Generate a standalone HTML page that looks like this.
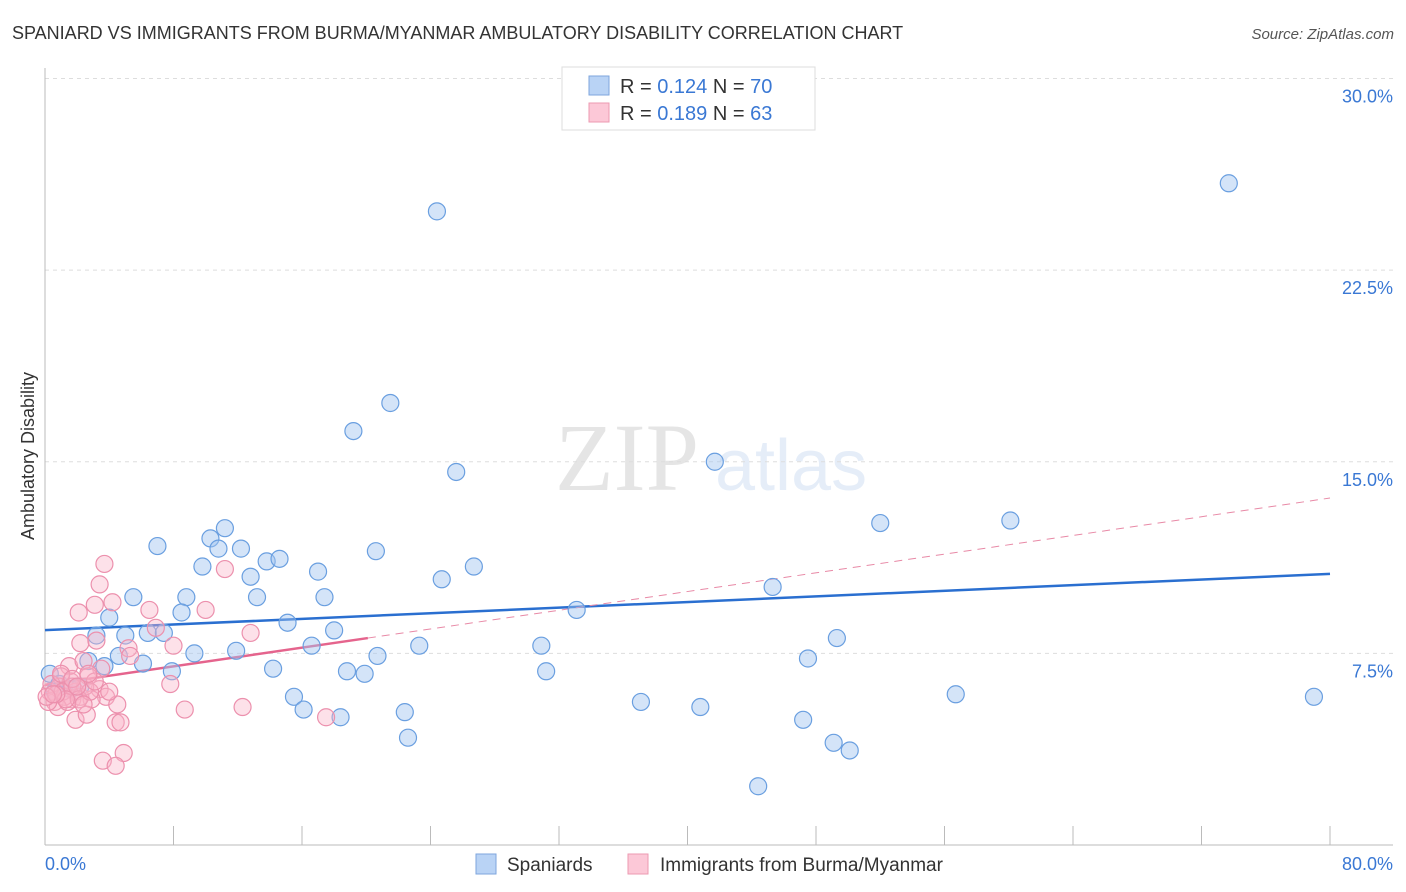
<!DOCTYPE html>
<html><head><meta charset="utf-8"><style>
body{margin:0;background:#fff;font-family:"Liberation Sans",sans-serif;}
svg{display:block}
</style></head><body>
<svg id="chart" width="1406" height="892" xmlns="http://www.w3.org/2000/svg" font-family="Liberation Sans, sans-serif">
<text x="12" y="39" font-size="18" fill="#333">SPANIARD VS IMMIGRANTS FROM BURMA/MYANMAR AMBULATORY DISABILITY CORRELATION CHART</text>
<text x="1394" y="39" font-size="15" fill="#555" font-style="italic" text-anchor="end">Source: ZipAtlas.com</text>
<text transform="translate(34,456) rotate(-90)" font-size="18" fill="#333" text-anchor="middle">Ambulatory Disability</text>
<g opacity="0.25">
<text x="555" y="490" font-size="96" font-family="Liberation Serif, serif" fill="#999">ZIP</text>
<text x="715" y="490" font-size="72" fill="#9bbbe6">atlas</text>
</g>
<g id="grid"></g><g id="axes"></g><g id="lines"></g><g id="pts"></g>
<g>
<rect x="562" y="67" width="253" height="63" fill="#fff" stroke="#ddd"/>
<rect x="589" y="76" width="20" height="19" fill="#b9d3f5" stroke="#7ea6dd"/>
<text x="620" y="93" font-size="20" fill="#333">R = <tspan fill="#3a78d4">0.124</tspan>   N = <tspan fill="#3a78d4">70</tspan></text>
<rect x="589" y="103" width="20" height="19" fill="#fcc8d7" stroke="#ec9ab2"/>
<text x="620" y="120" font-size="20" fill="#333">R = <tspan fill="#3a78d4">0.189</tspan>   N = <tspan fill="#3a78d4"> 63</tspan></text>
</g>
<g>
<rect x="476" y="854" width="20" height="20" fill="#b9d3f5" stroke="#7ea6dd"/>
<text x="507" y="871" font-size="19" fill="#333">Spaniards</text>
<rect x="628" y="854" width="20" height="20" fill="#fcc8d7" stroke="#ec9ab2"/>
<text x="660" y="871" font-size="19" fill="#333">Immigrants from Burma/Myanmar</text>
</g>
</svg>
<script>
const yTicks=[7.5,15,22.5,30];
const yTickLabels=["7.5%","15.0%","22.5%","30.0%"];
const xTickLabels=["0.0%","80.0%"];
const blueX=[24.4,73.7,21.5,19.2,25.6,41.7,52.0,60.1,7.0,10.3,11.2,10.8,12.2,13.8,14.6,20.6,9.8,12.8,17.0,24.7,26.7,8.8,5.5,13.2,8.5,17.4,45.3,33.1,4.0,15.1,5.0,3.2,6.4,7.4,18.0,49.3,30.9,23.3,16.6,9.3,11.9,20.7,4.6,6.1,2.7,3.7,7.9,14.2,18.8,19.9,31.2,47.5,15.5,37.1,40.8,56.7,79.0,16.1,18.4,22.4,47.2,22.6,49.1,50.1,44.4,0.3,0.9,1.6,2.2,0.6];
const blueY=[24.8,25.9,17.3,16.2,14.6,15.0,12.6,12.7,11.7,12.0,12.4,11.6,11.6,11.1,11.2,11.5,10.9,10.5,10.7,10.4,10.9,9.7,9.7,9.7,9.1,9.7,10.1,9.2,8.9,8.7,8.2,8.2,8.3,8.3,8.4,8.1,7.8,7.8,7.8,7.5,7.6,7.4,7.4,7.1,7.2,7.0,6.8,6.9,6.8,6.7,6.8,7.3,5.8,5.6,5.4,5.9,5.8,5.3,5.0,5.2,4.9,4.2,4.0,3.7,2.3,6.7,6.3,6.1,6.2,6.0];
const pinkX=[3.7,3.4,11.2,2.1,3.1,4.2,6.5,10.0,2.2,3.2,6.9,8.0,12.8,5.2,5.3,1.5,3.5,2.4,2.7,1.0,7.8,3.4,3.8,1.7,2.9,4.5,8.7,12.3,17.5,1.9,2.6,4.4,4.7,4.9,3.6,4.4,0.3,0.6,0.9,1.2,1.6,1.9,2.2,2.5,0.4,0.8,1.1,1.4,1.7,2.1,0.2,2.8,3.1,4.0,1.0,1.3,0.7,1.7,2.4,0.1,0.5,2.7,2.0];
const pinkY=[11.0,10.2,10.8,9.1,9.4,9.5,9.2,9.2,7.9,8.0,8.5,7.8,8.3,7.7,7.4,7.0,6.9,7.2,6.6,6.6,6.3,6.1,5.8,5.7,5.7,5.5,5.3,5.4,5.0,4.9,5.1,4.8,4.8,3.6,3.3,3.1,6.0,5.6,6.2,5.8,6.4,6.0,5.8,6.2,6.3,5.4,6.0,5.6,6.2,5.7,5.6,6.0,6.4,6.0,6.7,5.7,5.9,6.5,5.5,5.8,5.9,6.7,6.2];
const blueTrend=[8.41,10.61];
const pinkTrend=[6.26,13.58];
const pinkSolidEnd=20.1;

const NS="http://www.w3.org/2000/svg";
const X=v=>45+v*16.0625, Y=v=>845-v*25.55;
function mk(tag,attrs,parent){const e=document.createElementNS(NS,tag);for(const k in attrs)e.setAttribute(k,attrs[k]);document.getElementById(parent).appendChild(e);return e;}
yTicks.forEach((t,i)=>{
 const g=mk('line',{x1:45,x2:1393,y1:Y(t),y2:Y(t),stroke:'#ddd','stroke-dasharray':'4,4'},'grid');
 
 
 const l=mk('text',{x:1393,y:Y(t)+24,'font-size':18,fill:'#3a78d4','text-anchor':'end'},'axes');
 l.textContent=yTickLabels[i];
 
 
});
const ax=mk('line',{x1:45,x2:1393,y1:845,y2:845,stroke:'#bbb'},'axes');


const ay=mk('line',{x1:45,x2:45,y1:68,y2:845,stroke:'#bbb'},'axes');


for(let i=0;i<=10;i++){
 const t=mk('line',{x1:X(i*8),x2:X(i*8),y1:826,y2:845,stroke:'#bbb'},'axes');
 
 
}
[[0,'start'],[80,'end']].forEach((p,i)=>{
 const l=mk('text',{x:i?1393:45,y:870,'font-size':18,fill:'#3a78d4','text-anchor':p[1]},'axes');
 l.textContent=xTickLabels[i];
 
 
});
blueX.forEach((x,i)=>{
 const c=mk('circle',{cx:X(x),cy:Y(blueY[i]),r:8.5,fill:'rgba(160,196,240,0.45)',stroke:'#6a9fe0','stroke-width':1.2},'pts');
 
 
});
pinkX.forEach((x,i)=>{
 const c=mk('circle',{cx:X(x),cy:Y(pinkY[i]),r:8.5,fill:'rgba(250,180,200,0.4)',stroke:'#ec90ad','stroke-width':1.2},'pts');
 
 
});
const bt=mk('line',{x1:X(0),y1:Y(blueTrend[0]),x2:X(80),y2:Y(blueTrend[1]),stroke:'#2a6fd0','stroke-width':2.5},'lines');


const py=x=>pinkTrend[0]+(pinkTrend[1]-pinkTrend[0])*x/80;
const pd=mk('line',{x1:X(pinkSolidEnd),y1:Y(py(pinkSolidEnd)),x2:X(80),y2:Y(pinkTrend[1]),stroke:'#e889a6','stroke-width':1,'stroke-dasharray':'8,6'},'lines');


const ps=mk('line',{x1:X(0),y1:Y(pinkTrend[0]),x2:X(pinkSolidEnd),y2:Y(py(pinkSolidEnd)),stroke:'#e5648d','stroke-width':2.5},'lines');


</script>
</body></html>
